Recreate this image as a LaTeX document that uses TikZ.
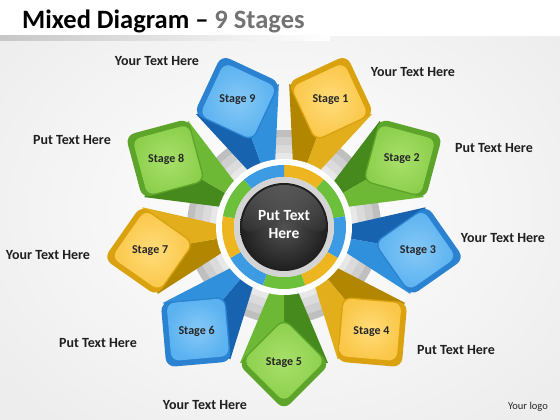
\documentclass[tikz,border=0pt]{standalone}
\usepackage{fontspec}
\setmainfont{Carlito}
\definecolor{Yface}{HTML}{FAC748}
\definecolor{Ylight}{HTML}{FFDC7A}
\definecolor{Yrim}{HTML}{D9A20E}
\definecolor{Ybodyl}{HTML}{E2AE1C}
\definecolor{Ybodyd}{HTML}{B38600}
\definecolor{Yseg}{HTML}{EDB520}
\definecolor{Gface}{HTML}{8CCF4C}
\definecolor{Glight}{HTML}{A8E06A}
\definecolor{Grim}{HTML}{5DA52A}
\definecolor{Gbodyl}{HTML}{6DB834}
\definecolor{Gbodyd}{HTML}{46891C}
\definecolor{Gseg}{HTML}{6CC03C}
\definecolor{Bface}{HTML}{5AB2F0}
\definecolor{Blight}{HTML}{86C8F7}
\definecolor{Brim}{HTML}{2A82D0}
\definecolor{Bbodyl}{HTML}{3190DC}
\definecolor{Bbodyd}{HTML}{1863B0}
\definecolor{Bseg}{HTML}{3C9BE2}
\tikzset{
  side/.style={font=\bfseries\fontsize{14}{16}\selectfont, text=black!88},
  stagelbl/.style={font=\bfseries\fontsize{12}{14}\selectfont, text=black!85},
}
\begin{document}
\begin{tikzpicture}[x=1pt,y=1pt]
\useasboundingbox (0,0) rectangle (560,420);
\shade[inner color=white, outer color=black!7] (-80,-60) rectangle (640,480);
\fill[white] (0,384) rectangle (560,420);
\shade[left color=black!22, right color=white] (0,379) rectangle (330,384);
% title
\node[anchor=base west, inner sep=0pt, font=\bfseries\fontsize{26.5}{30}\selectfont] (title) at (22,391)
  {Mixed Diagram \textendash{} \textcolor{black!55}{9 Stages}};
% big gray ring
\begin{scope}[shift={(284,193)}]
  \fill[black!25] (0,0) circle (97);
  \fill[black!19] (0,0) circle (90);
  \fill[black!14] (0,0) circle (82);
  \fill[black!9] (0,0) circle (74);
\end{scope}
% bodies
\foreach \k/\c in {1/Y,2/G,3/B,4/Y,5/G,6/B,7/Y,8/G,9/B} {
  \pgfmathsetmacro\ang{70-40*(\k-1)}
  \begin{scope}[shift={(284,193)}, rotate=\ang]
    \fill[\c bodyd] (62,0) -- (62,13) -- (136,44) -- (136,0) -- cycle;
    \fill[\c bodyl] (62,0) -- (62,-13) -- (136,-44) -- (136,0) -- cycle;
  \end{scope}
}
% faces
\foreach \k/\c in {1/Y,2/G,3/B,4/Y,5/G,6/B,7/Y,8/G,9/B} {
  \pgfmathsetmacro\ang{70-40*(\k-1)}
  \begin{scope}[shift={(284,193)}, rotate=\ang]
    \fill[\c rim, rounded corners=9] (183,0) -- (137,46) -- (91,0) -- (137,-46) -- cycle;
    \shade[inner color=\c light, outer color=\c face, rounded corners=8] (175,0) -- (134,41) -- (93,0) -- (134,-41) -- cycle;
    \node[stagelbl] (s\k) at (136,0) {Stage \k};
  \end{scope}
}
% center
\begin{scope}[shift={(284,193)}]
  \fill[white] (0,0) circle (68);
  \foreach \k/\c in {1/Y,2/G,3/B,4/Y,5/G,6/B,7/Y,8/G,9/B} {
    \pgfmathsetmacro\a{70-40*(\k-1)-20}
    \pgfmathsetmacro\b{70-40*(\k-1)+20}
    \fill[\c seg] (\a:62) arc[start angle=\a, end angle=\b, radius=62] -- (\b:50) arc[start angle=\b, end angle=\a, radius=50] -- cycle;
  }
  \fill[black!17] (0,0) circle (50);
  \shade[inner color=black!68, outer color=black!88] (0,0) circle (44);
  \shade[top color=white!55!black, bottom color=black!85, opacity=0.5] (0,42) arc[start angle=90, end angle=180, radius=42] to[out=-60,in=180] (0,8) to[out=0,in=240] (42,0) arc[start angle=0, end angle=90, radius=42];
  \node[align=center, text=white, font=\bfseries\fontsize{15.5}{18}\selectfont] (hub) at (0,2) {Put Text\\Here};
\end{scope}
% side labels
\node[side] (t9) at (157,359) {Your Text Here};
\node[side] (t1) at (413,348) {Your Text Here};
\node[side] (t8) at (72,280) {Put Text Here};
\node[side] (t2) at (494,272) {Put Text Here};
\node[side] (t7) at (48,165) {Your Text Here};
\node[side] (t3) at (503,182) {Your Text Here};
\node[side] (t6) at (98,77) {Put Text Here};
\node[side] (t4) at (456,70) {Put Text Here};
\node[side] (t5) at (205,15) {Your Text Here};
\node[font=\fontsize{10.5}{12}\selectfont, text=black!85] (logo) at (528,13) {Your logo};
\end{tikzpicture}
\end{document}
